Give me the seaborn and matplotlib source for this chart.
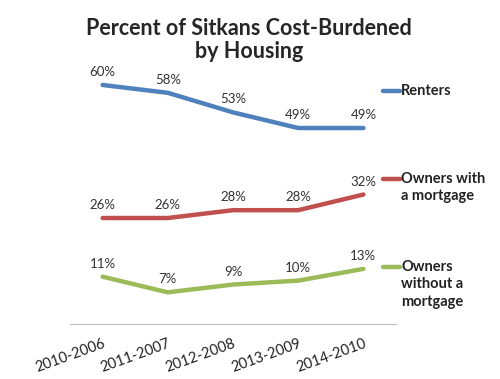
import pandas as pd
import seaborn as sns
import matplotlib.pyplot as plt
from matplotlib.lines import Line2D

# data
periods = ['2010-2006', '2011-2007', '2012-2008', '2013-2009', '2014-2010']
renters = [60, 58, 53, 49, 49]
owners_mortgage = [26, 26, 28, 28, 32]
owners_no_mortgage = [11, 7, 9, 10, 13]
series_names = ['Renters', 'Owners with\na mortgage', 'Owners\nwithout a\nmortgage']
colors = ['#4F81BD', '#C0504D', '#9BBB59']

df = pd.DataFrame({
    'period': periods * 3,
    'x': list(range(len(periods))) * 3,
    'value': renters + owners_mortgage + owners_no_mortgage,
    'series': [s for s in series_names for _ in periods],
})

sns.set_style('white')
plt.rcParams['font.family'] = ['Lato', 'DejaVu Sans']

fig = plt.figure(figsize=(5, 3.79), dpi=100)
ax = fig.add_axes([0.14, 0.145, 0.652, 0.734])

sns.lineplot(data=df, x='x', y='value', hue='series', palette=colors,
             linewidth=3.2, legend=False, ax=ax, solid_capstyle='round')

# data labels
for _, row in df.iterrows():
    ax.annotate(f"{row['value']}%", (row['x'], row['value']),
                xytext=(0, 5), textcoords='offset points',
                ha='center', va='bottom', fontsize=9.5, color='#333333')

ax.set_xlim(-0.5, len(periods) - 0.5)
ax.set_ylim(-1.1, 70)
ax.set_yticks([])
ax.set_xlabel('')
ax.set_ylabel('')
for side in ['top', 'left', 'right']:
    ax.spines[side].set_visible(False)
ax.spines['bottom'].set_color('#bbbbbb')

# ticks at category boundaries, labels at category centres
ax.set_xticks([i - 0.5 for i in range(len(periods) + 1)])
ax.set_xticklabels([])
ax.tick_params(axis='x', which='major', direction='in', length=4, color='#bbbbbb')
ax.set_xticks(range(len(periods)), minor=True)
ax.set_xticklabels(periods, minor=True, rotation=20, ha='right',
                   rotation_mode='anchor', fontsize=10.5, color='#222222')
ax.tick_params(axis='x', which='minor', length=0, pad=9)

# legend entries beside the plot
legend_y = [0.760, 0.528, 0.296]
for name, col, ly in zip(series_names, colors, legend_y):
    fig.add_artist(Line2D([0.766, 0.800], [ly, ly], color=col, linewidth=3.2))
    fig.text(0.802, ly + 0.018, name, ha='left', va='top', fontsize=10.5,
             fontweight='bold', color='#222222', linespacing=1.3)

fig.suptitle('Percent of Sitkans Cost-Burdened\nby Housing', x=0.498, y=0.952,
             fontsize=15.5, fontweight='bold', linespacing=1.12)

fig.savefig('out.png', dpi=100)
